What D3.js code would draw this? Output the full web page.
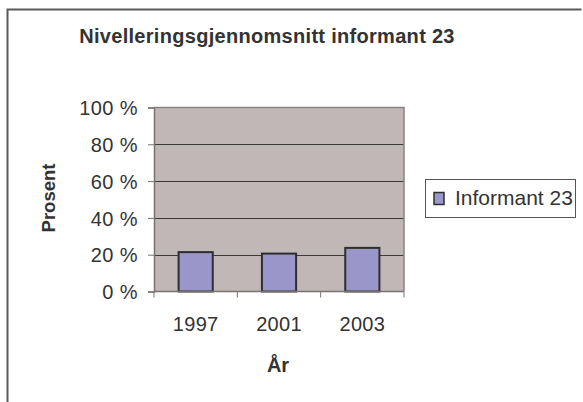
<!DOCTYPE html>
<html>
<head>
<meta charset="utf-8">
<script src="https://cdn.jsdelivr.net/npm/d3@7"></script>
<style>
  html, body { margin: 0; padding: 0; background: #fff; }
  svg { display: block; }
  text { font-family: "Liberation Sans", Arial, sans-serif; fill: #333; }
</style>
</head>
<body>
<svg id="chart" width="583" height="402"></svg>
<script>
// Data
const categories = ["1997", "2001", "2003"];
const values = [0.214, 0.206, 0.237];
const seriesName = "Informant 23";
const yTicks = [0, 0.2, 0.4, 0.6, 0.8, 1.0];
const titleText = "Nivelleringsgjennomsnitt informant 23";
const xTitle = "År";
const yTitle = "Prosent";

const svg = d3.select("#chart");

// Outer chart frame
svg.append("path")
  .attr("d", "M7.5,402 V9.5 H581.5")
  .attr("fill", "none")
  .attr("stroke", "#5a5a5a")
  .attr("stroke-width", 2);

const plot = { left: 154, right: 404, top: 107.5, bottom: 291.5 };

const x = d3.scaleBand()
  .domain(categories)
  .range([plot.left, plot.right])
  .paddingInner(0.59)
  .paddingOuter(0.295);

const y = d3.scaleLinear()
  .domain([0, 1])
  .range([plot.bottom, plot.top]);

// Plot background
svg.append("rect")
  .attr("x", plot.left)
  .attr("y", plot.top)
  .attr("width", plot.right - plot.left)
  .attr("height", plot.bottom - plot.top)
  .attr("fill", "#c0b8b7");

// Gridlines
svg.append("g")
  .selectAll("line")
  .data(yTicks.filter(t => t > 0 && t < 1))
  .join("line")
  .attr("x1", plot.left)
  .attr("x2", plot.right)
  .attr("y1", d => Math.round(y(d)) + 0.5)
  .attr("y2", d => Math.round(y(d)) + 0.5)
  .attr("stroke", "#3a3a3a")
  .attr("stroke-width", 1);

// Plot border (top and right)
svg.append("path")
  .attr("d", `M${plot.left},${plot.top} H${plot.right} V${plot.bottom}`)
  .attr("fill", "none")
  .attr("stroke", "#8a8282")
  .attr("stroke-width", 1.5);

// Bars
svg.append("g")
  .selectAll("rect")
  .data(values)
  .join("rect")
  .attr("x", (d, i) => x(categories[i]))
  .attr("y", d => y(d))
  .attr("width", x.bandwidth())
  .attr("height", d => y(0) - y(d))
  .attr("fill", "#9b96c9")
  .attr("stroke", "#2e2e2e")
  .attr("stroke-width", 2);

// Y axis
const yAxis = svg.append("g")
  .attr("transform", `translate(${plot.left},0)`)
  .call(d3.axisLeft(y)
    .tickValues(yTicks)
    .tickSize(6)
    .tickPadding(10)
    .tickFormat(d => Math.round(d * 100) + " %"));
yAxis.select(".domain").attr("stroke", "#7a7272").attr("stroke-width", 1.5);
yAxis.selectAll(".tick line").attr("stroke", "#7a7272");
yAxis.selectAll(".tick text")
  .attr("fill", "#333")
  .attr("dy", "0.36em")
  .style("font-size", "20px")
  .style("letter-spacing", "0.4px")
  .attr("font-family", null);

// X axis: ticks at category boundaries
const xAxisG = svg.append("g")
  .attr("transform", `translate(0,${plot.bottom})`);
xAxisG.append("line")
  .attr("x1", plot.left).attr("x2", plot.right)
  .attr("y1", 0).attr("y2", 0)
  .attr("stroke", "#7a7272").attr("stroke-width", 1.5);
const boundaries = categories.map((c, i) => plot.left + i * x.step());
boundaries.push(plot.right);
xAxisG.selectAll("line.tick")
  .data(boundaries)
  .join("line")
  .attr("class", "tick")
  .attr("x1", d => d).attr("x2", d => d)
  .attr("y1", 0).attr("y2", 6)
  .attr("stroke", "#7a7272");
xAxisG.selectAll("text")
  .data(categories)
  .join("text")
  .attr("x", d => x(d) + x.bandwidth() / 2)
  .attr("y", 39)
  .attr("text-anchor", "middle")
  .style("font-size", "20px")
  .style("letter-spacing", "0.3px")
  .text(d => d);

// Titles
svg.append("text")
  .attr("x", 267)
  .attr("y", 43)
  .attr("text-anchor", "middle")
  .style("font-size", "20px")
  .style("font-weight", "bold")
  .style("letter-spacing", "0.3px")
  .text(titleText);

svg.append("text")
  .attr("x", 278)
  .attr("y", 372)
  .attr("text-anchor", "middle")
  .style("font-size", "20px")
  .style("font-weight", "bold")
  .text(xTitle);

svg.append("text")
  .attr("transform", `translate(55,198) rotate(-90)`)
  .attr("text-anchor", "middle")
  .style("font-size", "18.5px")
  .style("font-weight", "bold")
  .text(yTitle);

// Legend
const legend = svg.append("g");
legend.append("rect")
  .attr("x", 425.5).attr("y", 179.5)
  .attr("width", 150).attr("height", 38)
  .attr("fill", "#fff")
  .attr("stroke", "#555")
  .attr("stroke-width", 1);
legend.append("rect")
  .attr("x", 434).attr("y", 192.5)
  .attr("width", 10).attr("height", 12)
  .attr("fill", "#9b96c9")
  .attr("stroke", "#2e2e2e")
  .attr("stroke-width", 1.5);
legend.append("text")
  .attr("x", 455).attr("y", 205)
  .style("font-size", "21px")
  .text(seriesName);
</script>
</body>
</html>
